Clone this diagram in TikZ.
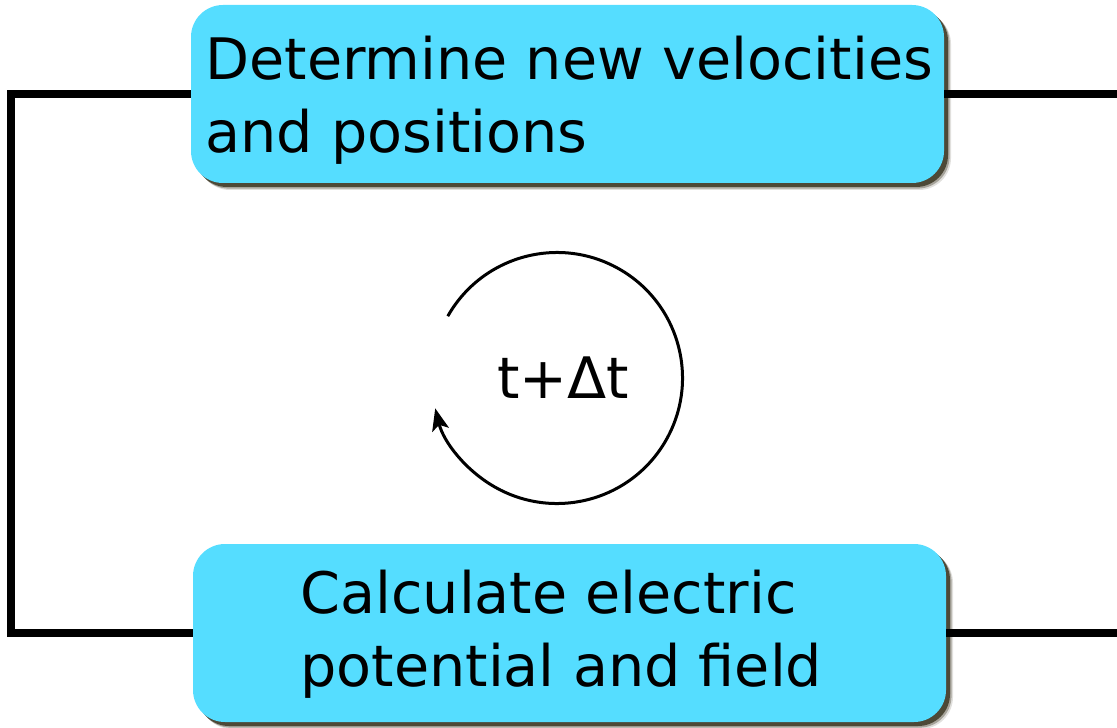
\documentclass[tikz,border=0pt]{standalone}
\usepackage{fontspec}
\setmainfont{DejaVu Sans}
\usetikzlibrary{shadows,arrows.meta}
\definecolor{boxcyan}{RGB}{85,221,255}
\definecolor{shadowc}{RGB}{55,50,30}
\begin{document}
\begin{tikzpicture}[x=0.5pt,y=-0.5pt,
  box/.style={draw=none, fill=boxcyan, rounded corners=16pt,
    minimum width=376.5pt, minimum height=89pt, inner sep=0pt,
    general shadow={shadow xshift=3.5pt, shadow yshift=-3.5pt, fill=shadowc, opacity=0.15},
    general shadow={shadow xshift=2.8pt, shadow yshift=-2.8pt, fill=shadowc, opacity=0.35},
    general shadow={shadow xshift=2pt, shadow yshift=-2pt, fill=shadowc, opacity=0.8}},
  lbl/.style={font=\fontsize{28.6pt}{36.5pt}\selectfont, inner sep=0pt, anchor=base west},
  wire/.style={line width=3.6pt, line cap=butt, line join=miter},
  loop/.style={line width=1.5pt, -{Stealth[length=11pt,width=8.5pt,inset=2.5pt]}}]
\useasboundingbox (0,0) rectangle (1117,727);
% boxes
\node[box] (top) at (567.5,94) {};
\node[box] (bot) at (569.5,633) {};
% texts
\node[lbl] (t1) at (205,80) {Determine new velocities};
\node[lbl] (t2) at (205,153) {and positions};
\node[lbl] (b1) at (300,613) {Calculate electric};
\node[lbl] (b2) at (300,686) {potential and field};
% wires
\coordinate (lmid) at (11,360);
\coordinate (rt) at (1120,94);
\coordinate (rb) at (1120,633);
\draw[wire] (top.west) -| (lmid) |- (bot.west);
\draw[wire] (top.east) -- (rt);
\draw[wire] (bot.east) -- (rb);
% loop
\coordinate (c) at (557,378);
\node[lbl] (dt) at (497,398) {t+Δt};
\draw[loop] ([shift={(-150.5:125.5)}]c) arc[start angle=-150.5, end angle=166, radius=125.5];
\end{tikzpicture}
\end{document}
